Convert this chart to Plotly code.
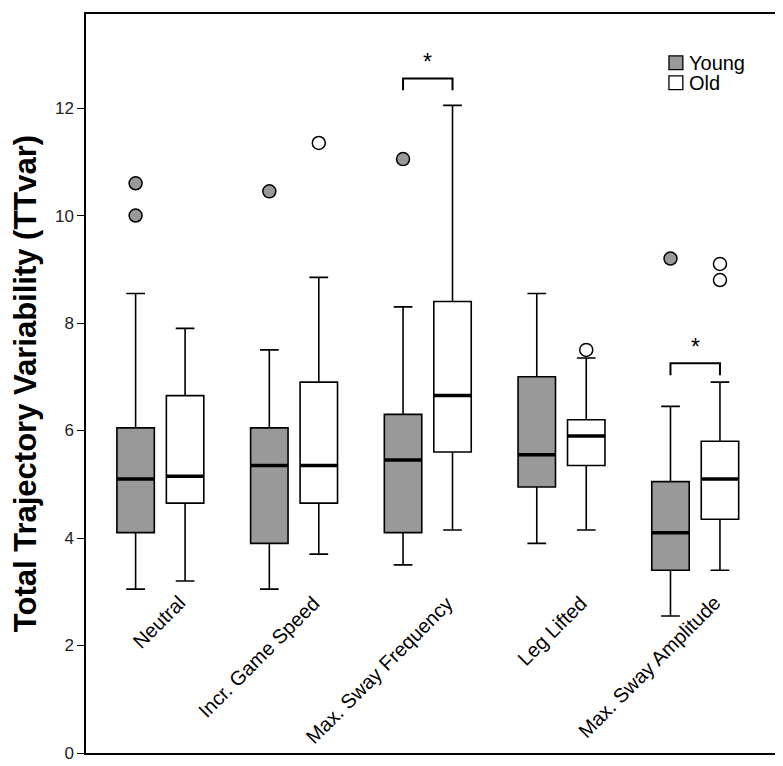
import plotly.graph_objects as go

categories = ["Neutral", "Incr. Game Speed", "Max. Sway Frequency", "Leg Lifted", "Max. Sway Amplitude"]

# Young
young_low = [3.05, 3.05, 3.5, 3.9, 2.55]
young_q1 = [4.1, 3.9, 4.1, 4.95, 3.4]
young_med = [5.1, 5.35, 5.45, 5.55, 4.1]
young_q3 = [6.05, 6.05, 6.3, 7.0, 5.05]
young_high = [8.55, 7.5, 8.3, 8.55, 6.45]
young_out_cat = [0, 0, 1, 2, 4]
young_out_val = [10.6, 10.0, 10.45, 11.05, 9.2]

# Old
old_low = [3.2, 3.7, 4.15, 4.15, 3.4]
old_q1 = [4.65, 4.65, 5.6, 5.35, 4.35]
old_med = [5.15, 5.35, 6.65, 5.9, 5.1]
old_q3 = [6.65, 6.9, 8.4, 6.2, 5.8]
old_high = [7.9, 8.85, 12.05, 7.35, 6.9]
old_out_cat = [1, 3, 4, 4]
old_out_val = [11.35, 7.5, 9.1, 8.8]

# significance brackets
sig_cat = [2, 4]
sig_y = [12.55, 7.25]

y_ticks = [0, 2, 4, 6, 8, 10, 12]

legend_names = ["Young", "Old"]
GRAY = "#999999"
legend_fills = [GRAY, "white"]

OFF = 0.185
BW = 0.28
FONT = "Liberation Sans, Arial"

young_x = [i - OFF for i in range(len(categories))]
old_x = [i + OFF for i in range(len(categories))]

fig = go.Figure()

fig.add_trace(go.Box(
    name="Young", x=young_x, q1=young_q1, median=young_med, q3=young_q3,
    lowerfence=young_low, upperfence=young_high, width=BW,
    fillcolor=GRAY, line=dict(color="black", width=1.6), whiskerwidth=0.5,
    boxpoints=False, hoverinfo="skip", showlegend=False))
fig.add_trace(go.Box(
    name="Old", x=old_x, q1=old_q1, median=old_med, q3=old_q3,
    lowerfence=old_low, upperfence=old_high, width=BW,
    fillcolor="white", line=dict(color="black", width=1.6), whiskerwidth=0.5,
    boxpoints=False, hoverinfo="skip", showlegend=False))

# thick median lines
for xs, meds in ((young_x, young_med), (old_x, old_med)):
    mx, my = [], []
    for x, m in zip(xs, meds):
        mx += [x - BW / 2, x + BW / 2, None]
        my += [m, m, None]
    fig.add_trace(go.Scatter(x=mx, y=my, mode="lines", line=dict(color="black", width=3.5),
                             showlegend=False, hoverinfo="skip"))

# outliers
fig.add_trace(go.Scatter(
    x=[c - OFF for c in young_out_cat], y=young_out_val, mode="markers",
    marker=dict(size=13, color=GRAY, line=dict(color="black", width=1.5)),
    showlegend=False, hoverinfo="skip"))
fig.add_trace(go.Scatter(
    x=[c + OFF for c in old_out_cat], y=old_out_val, mode="markers",
    marker=dict(size=13, color="white", line=dict(color="black", width=1.5)),
    showlegend=False, hoverinfo="skip"))

# brackets
bx, by = [], []
for c, yv in zip(sig_cat, sig_y):
    bx += [c - OFF, c - OFF, c + OFF, c + OFF, None]
    by += [yv - 0.22, yv, yv, yv - 0.22, None]
    fig.add_annotation(x=c, y=yv + 0.03, text="*", showarrow=False, yanchor="bottom",
                       font=dict(size=23, color="black", family=FONT))
fig.add_trace(go.Scatter(x=bx, y=by, mode="lines", line=dict(color="black", width=2),
                         showlegend=False, hoverinfo="skip"))

# category labels inside plot
for i, cat in enumerate(categories):
    fig.add_annotation(x=i + 0.24, y=3.05, text=cat, textangle=-45, showarrow=False,
                       xanchor="right", yanchor="top",
                       font=dict(size=20, color="black", family=FONT))

# manual legend (paper coordinates)
lx0, lw = 0.840, 0.020
ly_centers = [0.934, 0.907]
lh = 0.0187
for name, fill, yc in zip(legend_names, legend_fills, ly_centers):
    fig.add_shape(type="rect", xref="paper", yref="paper",
                  x0=lx0, x1=lx0 + lw, y0=yc - lh / 2, y1=yc + lh / 2,
                  fillcolor=fill, line=dict(color="black", width=1.3))
    fig.add_annotation(xref="paper", yref="paper", x=lx0 + lw + 0.006, y=yc,
                       text=name, showarrow=False, xanchor="left", yanchor="middle",
                       font=dict(size=20, color="black", family=FONT))

fig.update_layout(
    width=783, height=766,
    margin=dict(l=78, r=11, t=4, b=21),
    paper_bgcolor="white", plot_bgcolor="white",
    font=dict(family=FONT, color="black", size=17),
    showlegend=False,
    xaxis=dict(range=[-0.556, 4.634], showticklabels=False, ticks="", showgrid=False,
               zeroline=False, showline=True, linecolor="black", linewidth=1.5, mirror=True),
    yaxis=dict(range=[0, 13.75], tickvals=y_ticks, ticks="outside", ticklen=7,
               tickcolor="black", tickwidth=1.3, showgrid=False, zeroline=False,
               showline=True, linecolor="black", linewidth=1.5, mirror=True,
               tickfont=dict(size=17, color="#222222"),
               title=dict(text="<b>Total Trajectory Variability (TTvar)</b>",
                          font=dict(size=31), standoff=14)),
)

fig.write_html("out.html")
